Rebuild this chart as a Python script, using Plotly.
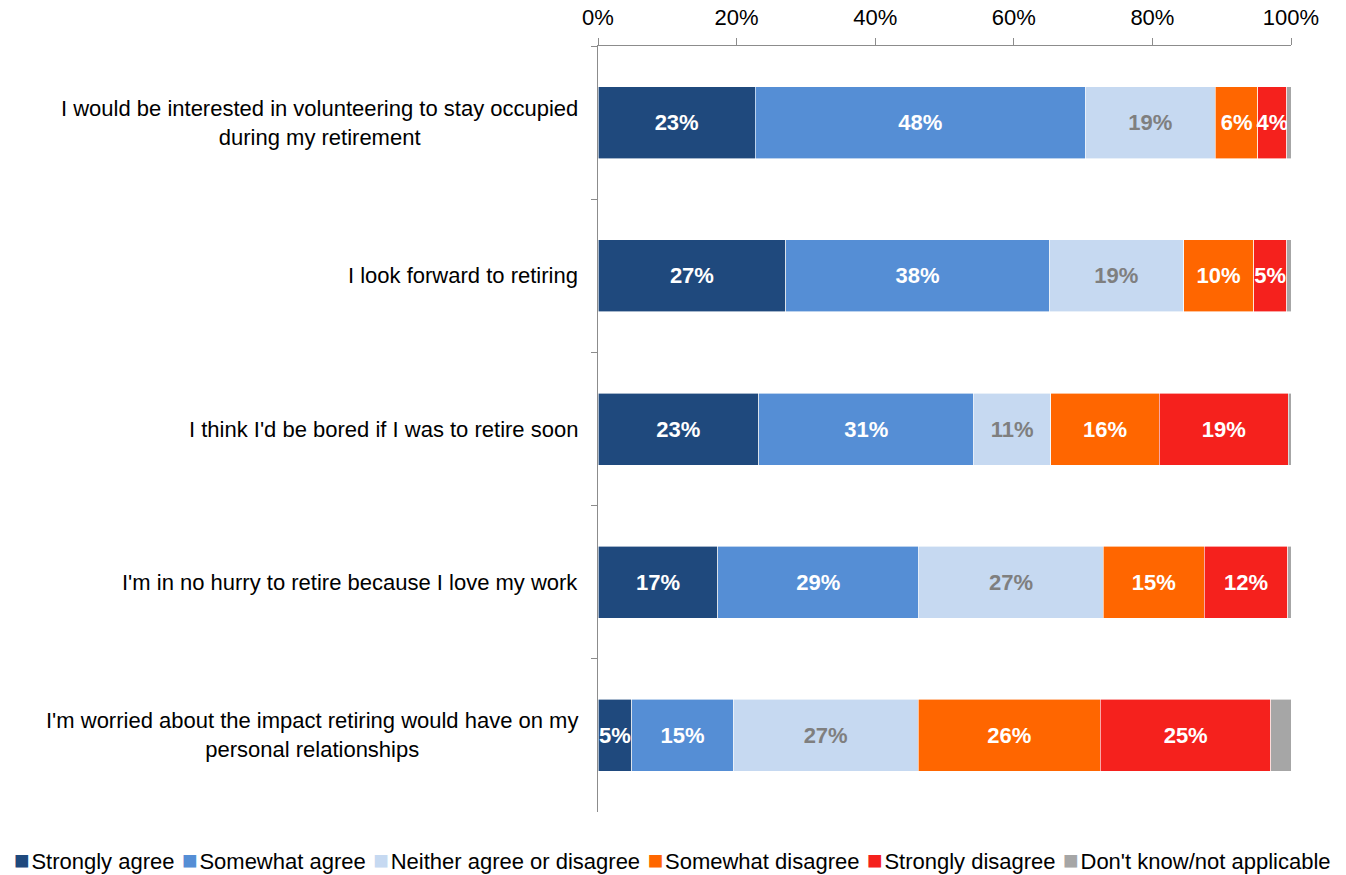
import plotly.graph_objects as go

# Survey statements (top to bottom)
statements = [
    "I would be interested in volunteering to stay occupied<br>during my retirement",
    "I look forward to retiring",
    "I think I'd be bored if I was to retire soon",
    "I'm in no hurry to retire because I love my work",
    "I'm worried about the impact retiring would have on my<br>personal relationships",
]

# Response categories
responses = [
    "Strongly agree",
    "Somewhat agree",
    "Neither agree or disagree",
    "Somewhat disagree",
    "Strongly disagree",
    "Don't know/not applicable",
]

# Share of respondents (%) per statement, one list per response
strongly_agree = [22.7, 27.1, 23.2, 17.3, 4.9]
somewhat_agree = [47.6, 38.0, 31.0, 29.0, 14.6]
neither = [18.8, 19.4, 11.1, 26.6, 26.7]
somewhat_disagree = [6.1, 10.1, 15.7, 14.6, 26.3]
strongly_disagree = [4.2, 4.8, 18.6, 12.0, 24.6]
dont_know = [0.6, 0.6, 0.4, 0.5, 2.9]

series = [strongly_agree, somewhat_agree, neither, somewhat_disagree,
          strongly_disagree, dont_know]

colors = ["#1F497D", "#558ED5", "#C6D9F1", "#FF6600", "#F5211D", "#A6A6A6"]
label_colors = ["white", "white", "#7F7F7F", "white", "white", None]

x_ticks = [0, 20, 40, 60, 80, 100]
x_tick_text = ["0%", "20%", "40%", "60%", "80%", "100%"]

FONT = "Liberation Sans, Arial, sans-serif"
FS = 22
AXIS_GRAY = "#8C8C8C"

fig = go.Figure()
for name, vals, col, lcol in zip(responses, series, colors, label_colors):
    fig.add_trace(go.Bar(
        name=name,
        y=statements,
        x=vals,
        orientation="h",
        marker=dict(color=col, line=dict(color="white", width=0.6)),
        texttemplate="<b>%{x:.0f}%</b>" if lcol else None,
        textposition="inside" if lcol else "none",
        insidetextanchor="middle",
        textangle=0,
        constraintext="none",
        textfont=dict(family=FONT, size=FS, color=lcol or "white"),
        hoverinfo="name+x",
    ))

# Statement labels, right-aligned against the axis, lines centred
for s in statements:
    fig.add_annotation(
        x=0, y=s, xref="x", yref="y",
        text=s, showarrow=False,
        xanchor="right", yanchor="middle", align="center",
        xshift=-18,
        font=dict(family=FONT, size=FS, color="#000000"),
    )

# Legend row built from the response names and colours
legend_parts = []
for name, col in zip(responses, colors):
    legend_parts.append(
        f"<span style='color:{col};font-size:26px'>■</span>"
        f"<span style='font-size:6px'> </span>{name}"
    )
fig.add_annotation(
    x=0.1075, y=-0.0627, xref="paper", yref="paper",
    text="<span style='font-size:27px'> </span>".join(legend_parts),
    showarrow=False,
    xanchor="center", yanchor="middle",
    font=dict(family=FONT, size=FS, color="#000000"),
)

fig.update_layout(
    width=1346, height=875,
    barmode="stack",
    bargap=0.53,
    showlegend=False,
    plot_bgcolor="white",
    paper_bgcolor="white",
    margin=dict(l=598, r=55, t=46, b=63),
    font=dict(family=FONT, size=FS, color="#000000"),
    xaxis=dict(
        side="top",
        range=[0, 100],
        tickvals=x_ticks,
        ticktext=x_tick_text,
        ticks="outside",
        ticklen=7,
        tickcolor=AXIS_GRAY,
        showline=True,
        linecolor=AXIS_GRAY,
        linewidth=1,
        showgrid=False,
        zeroline=False,
        automargin=False,
        ticklabelstandoff=4,
        tickfont=dict(family=FONT, size=FS, color="#000000"),
    ),
    yaxis=dict(
        autorange="reversed",
        showticklabels=False,
        ticks="outside",
        tickson="boundaries",
        ticklen=6,
        tickcolor=AXIS_GRAY,
        showline=True,
        linecolor=AXIS_GRAY,
        linewidth=1,
        showgrid=False,
        zeroline=False,
        automargin=False,
    ),
)

fig.write_html("out.html")
